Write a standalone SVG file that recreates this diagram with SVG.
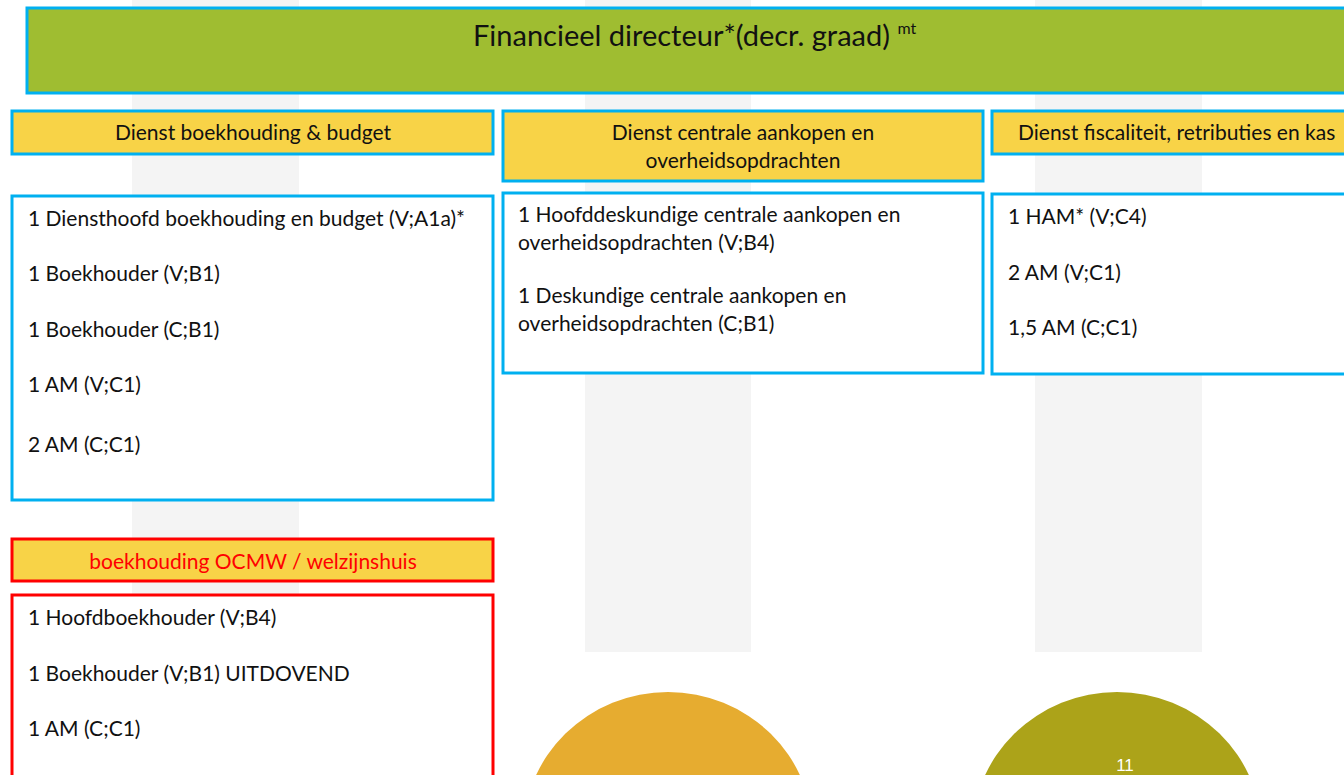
<svg xmlns="http://www.w3.org/2000/svg" width="1344" height="775" viewBox="0 0 1344 775">
<style>
.t{font-family:Lato,"Open Sans","DejaVu Sans",sans-serif;font-size:21px;fill:#111}
.c{text-anchor:middle}
.band{fill:#f4f4f4}
.hdr{fill:#F8D347;stroke:#00B0F0;stroke-width:3}
.body{fill:#fff;stroke:#00B0F0;stroke-width:3}
.rhdr{fill:#F8D347;stroke:#FF0000;stroke-width:3}
.rbody{fill:#fff;stroke:#FF0000;stroke-width:3}
</style>
<rect width="1344" height="775" fill="#fff"/>
<g id="background">
<rect class="band" x="132" y="0" width="167" height="652"/>
<rect class="band" x="585" y="0" width="166" height="652"/>
<rect class="band" x="1035" y="0" width="167" height="652"/>
<ellipse cx="668" cy="834" rx="145" ry="142" fill="#E6AC30"/>
<ellipse cx="1117" cy="834" rx="145" ry="142" fill="#ACA319"/>
<text x="1125" y="771" font-family="Liberation Sans Narrow,Liberation Sans,sans-serif" font-size="17" fill="#fff" text-anchor="middle">11</text>
</g>
<g id="top">
<rect x="27" y="8" width="1330" height="85" fill="#9FBD31" stroke="#00B0F0" stroke-width="3"/>
<text class="t" x="473" y="46" style="font-size:29px">Financieel directeur*(decr. graad) <tspan style="font-size:16px" dy="-12">mt</tspan></text>
</g>
<g id="col1-header">
<rect class="hdr" x="12" y="111" width="481" height="43"/>
<text class="t c" x="253" y="140">Dienst boekhouding &amp; budget</text>
</g>
<g id="col1-body">
<rect class="body" x="12" y="196" width="481" height="304"/>
<text class="t" x="28" y="226">1 Diensthoofd boekhouding en budget (V;A1a)*</text>
<text class="t" x="28" y="281">1 Boekhouder (V;B1)</text>
<text class="t" x="28" y="337">1 Boekhouder (C;B1)</text>
<text class="t" x="28" y="392">1 AM (V;C1)</text>
<text class="t" x="28" y="452">2 AM (C;C1)</text>
</g>
<g id="col2-header">
<rect class="hdr" x="503" y="111" width="480" height="70"/>
<text class="t c" x="743" y="140">Dienst centrale aankopen en</text>
<text class="t c" x="743" y="168">overheidsopdrachten</text>
</g>
<g id="col2-body">
<rect class="body" x="503" y="193" width="480" height="180"/>
<text class="t" x="518" y="222">1 Hoofddeskundige centrale aankopen en</text>
<text class="t" x="518" y="250">overheidsopdrachten (V;B4)</text>
<text class="t" x="518" y="303">1 Deskundige centrale aankopen en</text>
<text class="t" x="518" y="331">overheidsopdrachten (C;B1)</text>
</g>
<g id="col3-header">
<rect class="hdr" x="992" y="111" width="400" height="43"/>
<text class="t" x="1018" y="140">Dienst fiscaliteit, retributies en kas</text>
</g>
<g id="col3-body">
<rect class="body" x="992" y="194" width="400" height="180"/>
<text class="t" x="1008" y="224">1 HAM* (V;C4)</text>
<text class="t" x="1008" y="280">2 AM (V;C1)</text>
<text class="t" x="1008" y="335">1,5 AM (C;C1)</text>
</g>
<g id="ocmw-header">
<rect class="rhdr" x="12" y="539" width="481" height="42"/>
<text class="t c" x="253" y="569" style="fill:#FF0000">boekhouding OCMW / welzijnshuis</text>
</g>
<g id="ocmw-body">
<rect class="rbody" x="12" y="595" width="481" height="200"/>
<text class="t" x="28" y="625">1 Hoofdboekhouder (V;B4)</text>
<text class="t" x="28" y="681">1 Boekhouder (V;B1) UITDOVEND</text>
<text class="t" x="28" y="736">1 AM (C;C1)</text>
</g>
<g id="connectors"></g>
</svg>
